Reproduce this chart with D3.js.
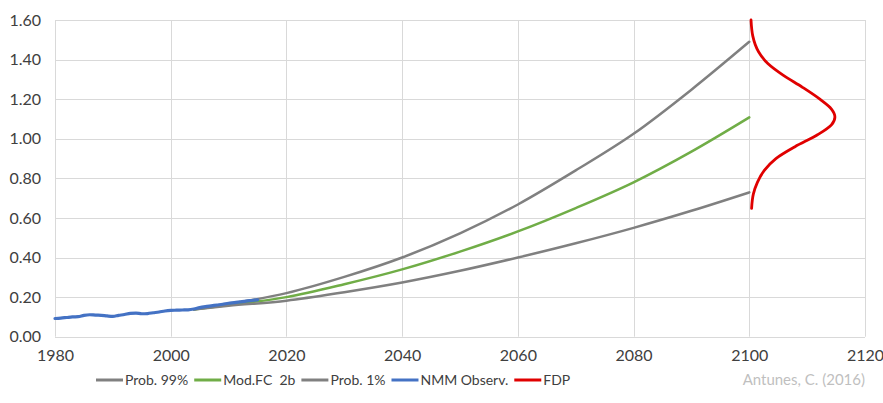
<!DOCTYPE html>
<html>
<head>
<meta charset="utf-8">
<script src="https://cdn.jsdelivr.net/npm/d3@7"></script>
<style>
  html, body { margin: 0; padding: 0; background: #fff; }
  svg { display: block; }
  text { font-family: Lato, "Liberation Sans", sans-serif; }
</style>
</head>
<body>
<svg id="chart" width="883" height="403"></svg>
<script>
// Tick values
const xTicks = [1980, 2000, 2020, 2040, 2060, 2080, 2100, 2120];
const yTicks = [0, 0.2, 0.4, 0.6, 0.8, 1.0, 1.2, 1.4, 1.6];

// Observed sea level (NMM), 1980-2015
const obsYears = d3.range(1980, 2016);
const obsValues = [0.092, 0.094, 0.097, 0.100, 0.101, 0.108, 0.111, 0.109, 0.108, 0.105,
                   0.103, 0.108, 0.112, 0.118, 0.119, 0.116, 0.117, 0.121, 0.125, 0.130,
                   0.133, 0.134, 0.135, 0.136, 0.140, 0.147, 0.152, 0.156, 0.160, 0.164,
                   0.169, 0.172, 0.176, 0.180, 0.183, 0.186];

// Projections
const projYears = [2004, 2010, 2020, 2030, 2040, 2050, 2060, 2070, 2080, 2090, 2100];
const prob99 = [0.138, 0.165, 0.220, 0.302, 0.400, 0.522, 0.668, 0.840, 1.025, 1.248, 1.490];
const modFC  = [0.138, 0.160, 0.200, 0.265, 0.340, 0.430, 0.532, 0.650, 0.780, 0.935, 1.108];
const prob1  = [0.138, 0.156, 0.182, 0.225, 0.274, 0.333, 0.400, 0.472, 0.550, 0.636, 0.729];

// Probability density of the 2100 level, drawn sideways from the 2100 axis
const fdpLevel = [1.600, 1.520, 1.440, 1.380, 1.320, 1.260, 1.200, 1.150, 1.110, 1.070, 1.020, 0.960, 0.900, 0.840, 0.780, 0.720, 0.648];
const fdpYear  = [2100.3, 2100.6, 2101.6, 2103.2, 2105.9, 2109.2, 2112.2, 2114.2, 2114.8, 2114.2, 2111.8, 2107.9, 2104.6, 2102.6, 2101.4, 2100.7, 2100.4];

const legendItems = [
  { label: "Prob. 99%",   color: "#808080" },
  { label: "Mod.FC  2b",  color: "#70ad47" },
  { label: "Prob. 1%",    color: "#808080" },
  { label: "NMM Observ.", color: "#4472c4" },
  { label: "FDP",         color: "#e00000" }
];

const svg = d3.select("#chart");
const x = d3.scaleLinear().domain([1980, 2120]).range([55, 865]);
const y = d3.scaleLinear().domain([0, 1.6]).range([336.7, 20]);

// Gridlines
const grid = svg.append("g").attr("stroke", "#d9d9d9").attr("stroke-width", 1);
grid.selectAll("line.h").data(yTicks).join("line")
  .attr("x1", x(1980)).attr("x2", x(2120))
  .attr("y1", d => Math.round(y(d)) + 0.5).attr("y2", d => Math.round(y(d)) + 0.5);
grid.selectAll("line.v").data(xTicks).join("line")
  .attr("y1", y(0)).attr("y2", y(1.6))
  .attr("x1", d => Math.round(x(d)) + 0.5).attr("x2", d => Math.round(x(d)) + 0.5);

// Axes (labels only)
const yAxis = svg.append("g").attr("transform", "translate(55,0)")
  .call(d3.axisLeft(y).tickValues(yTicks).tickFormat(d3.format(".2f")).tickSize(0).tickPadding(14));
const xAxis = svg.append("g").attr("transform", `translate(0,${y(0)})`)
  .call(d3.axisBottom(x).tickValues(xTicks).tickFormat(d3.format("d")).tickSize(0).tickPadding(13));
[yAxis, xAxis].forEach(a => {
  a.select(".domain").remove();
  a.selectAll("text").attr("fill", "#404040").style("font-size", "16px");
});

// Series
const line = d3.line().x(d => x(d[0])).y(d => y(d[1])).curve(d3.curveMonotoneX);
const series = [
  { data: d3.zip(projYears, prob99), color: "#808080", w: 2.5 },
  { data: d3.zip(projYears, modFC),  color: "#70ad47", w: 2.5 },
  { data: d3.zip(projYears, prob1),  color: "#808080", w: 2.5 },
  { data: d3.zip(obsYears, obsValues), color: "#4472c4", w: 3.2 }
];
svg.append("g").selectAll("path").data(series).join("path")
  .attr("d", d => line(d.data))
  .attr("fill", "none")
  .attr("stroke", d => d.color)
  .attr("stroke-width", d => d.w)
  .attr("stroke-linejoin", "round")
  .attr("stroke-linecap", "round");

const fdpLine = d3.line().x(d => x(d[0])).y(d => y(d[1])).curve(d3.curveMonotoneY);
svg.append("path")
  .attr("d", fdpLine(d3.zip(fdpYear, fdpLevel)))
  .attr("fill", "none").attr("stroke", "#e00000").attr("stroke-width", 2.8)
  .attr("stroke-linecap", "round");

// Legend
const legend = svg.append("g").attr("transform", "translate(96,380)");
let lx = 0;
legendItems.forEach(it => {
  legend.append("line").attr("x1", lx).attr("x2", lx + 27).attr("y1", 0).attr("y2", 0)
    .attr("stroke", it.color).attr("stroke-width", 3);
  const t = legend.append("text").attr("x", lx + 29).attr("y", 5)
    .attr("fill", "#404040").style("font-size", "14px").style("white-space", "pre")
    .text(it.label);
  lx += 29 + t.node().getComputedTextLength() + 6;
});

svg.append("text").attr("x", 865).attr("y", 385).attr("text-anchor", "end")
  .attr("fill", "#bfbfbf").style("font-size", "15px")
  .text("Antunes, C. (2016)");
</script>
</body>
</html>
